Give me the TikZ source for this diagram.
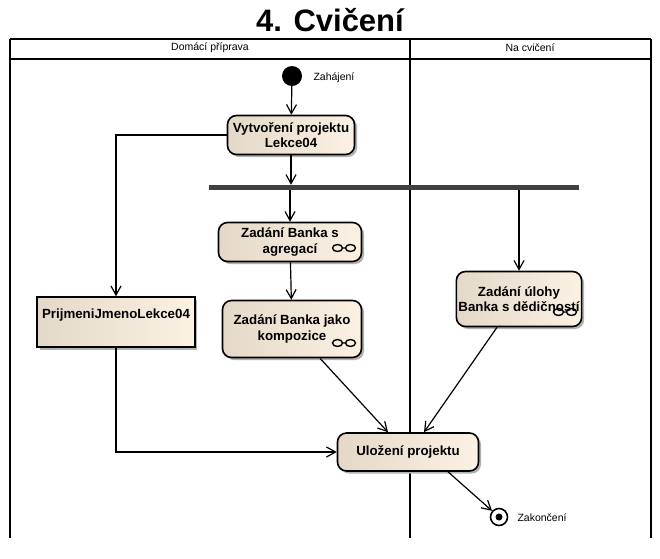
\documentclass[tikz,border=0pt]{standalone}
\usepackage{fontspec}
\setmainfont{Liberation Sans}
\usetikzlibrary{arrows.meta,shadows}
\definecolor{kremL}{HTML}{E4D9C8}
\definecolor{kremR}{HTML}{FBF2E4}
\definecolor{tmava}{HTML}{404040}

\begin{document}
\begin{tikzpicture}[x=1pt,y=-1pt,
    akce/.style={draw,line width=1.6pt,rounded corners=9pt,left color=kremL,right color=kremR,
      drop shadow={shadow xshift=2.5pt,shadow yshift=-2.5pt,fill=black!30,opacity=1},
      font=\fontsize{13.3}{15.5}\selectfont\bfseries,align=center,inner sep=2pt},
    objekt/.style={akce,sharp corners},
    tok/.style={line width=1.2pt,-{Straight Barb[length=9pt,width=10pt,line width=1.2pt]}},
    drah/.style={line width=1.6pt},
    popis/.style={font=\fontsize{10.5}{12}\selectfont}]
  \useasboundingbox (0,0) rectangle (660,558);
  % nadpis a drahy
  \node[font=\fontsize{31}{34}\selectfont\bfseries] (nadpis) at (330,20) {4. Cvičení};
  \draw[drah] (10,39) -- (651,39) (10,59) -- (651,59);
  \draw[drah] (10,39) -- (10,538) (410,39) -- (410,538) (651,39) -- (651,538);
  \node[popis] (doma) at (210,48) {Domácí příprava};
  \node[popis] (cviko) at (530,48) {Na cvičení};
  % uzly
  \node[circle,fill=black,minimum size=20pt,inner sep=0pt] (start) at (292,76) {};
  \node[popis,anchor=west] (startL) at (310,78) {Zahájení};
  \node[akce,minimum width=127pt,minimum height=39pt] (vytvor) at (291,135) {Vytvoření projektu\\Lekce04};
  \node[fill=tmava,minimum width=370pt,minimum height=5pt,inner sep=0pt] (fork) at (394,187.5) {};
  \node[akce,minimum width=143pt,minimum height=39pt] (agreg) at (290,242) {Zadání Banka s\\agregací};
  \node[akce,minimum width=139pt,minimum height=57pt] (kompo) at (292,329) {Zadání Banka jako\\kompozice};
  \node[akce,minimum width=125pt,minimum height=55pt] (dedic) at (519,299) {Zadání úlohy\\Banka s dědičností};
  \node[objekt,minimum width=154pt,minimum height=50pt,text height=16pt,text depth=24pt,inner sep=5pt] (prijm) at (116,322) {PrijmeniJmenoLekce04};
  \node[akce,minimum width=141pt,minimum height=38pt] (uloz) at (408,452) {Uložení projektu};
  \node[circle,draw,line width=1.6pt,fill=white,minimum size=17pt,inner sep=0pt] (konec) at (499,517) {};
  \fill (konec) circle (3.5pt);
  \node[popis,anchor=west] (konecL) at (514,518) {Zakončení};
  % ikony
  \foreach \x/\y in {344/248, 344/343, 565/312}
    \draw[line width=1.4pt] (\x-6.5,\y) ellipse (5 and 3.5) (\x+6.5,\y) ellipse (5 and 3.5)
      (\x-1.5,\y) -- (\x+1.5,\y);
  % toky
  \draw[tok] (start) -- (vytvor);
  \draw[tok] (vytvor) -- (vytvor |- fork.north);
  \draw[tok] (vytvor.west) -| (prijm.north);
  \draw[tok] (fork.south -| agreg.north) -- (agreg.north);
  \draw[tok] (fork.south -| dedic.north) -- (dedic.north);
  \draw[tok] (agreg) -- (kompo);
  \draw[tok] ([xshift=28pt]kompo.south) -- ([xshift=-20pt]uloz.north);
  \draw[tok] ([xshift=-22pt]dedic.south) -- ([xshift=16pt]uloz.north);
  \draw[tok] (prijm.south) |- (uloz.west);
  \draw[tok] ([xshift=40pt]uloz.south) -- (konec);
\end{tikzpicture}
\end{document}
